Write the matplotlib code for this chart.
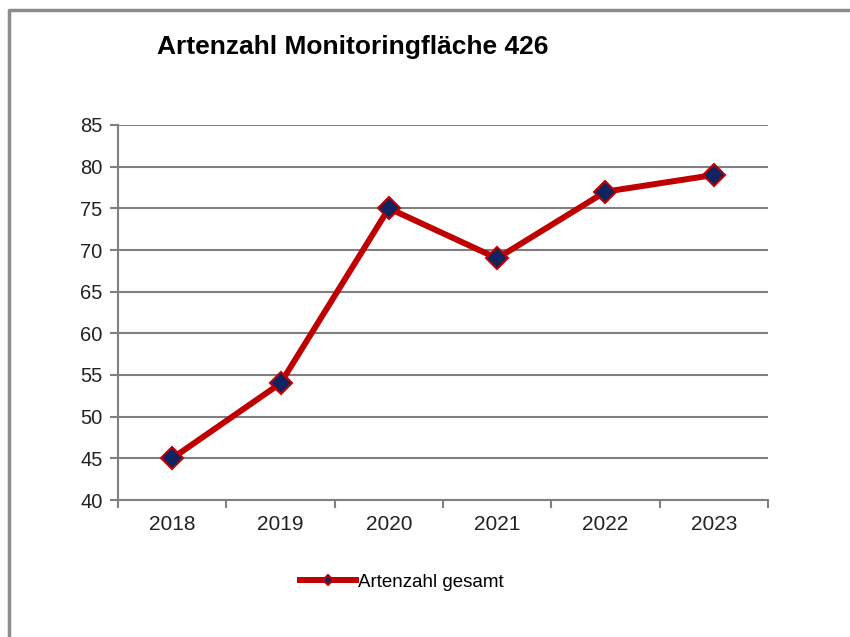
import matplotlib.pyplot as plt
from matplotlib.lines import Line2D

plt.rcParams['font.family'] = ['Liberation Sans', 'DejaVu Sans']

# Daten
jahre = ['2018', '2019', '2020', '2021', '2022', '2023']
artenzahl = [45, 54, 75, 69, 77, 79]
y_ticks = [40, 45, 50, 55, 60, 65, 70, 75, 80, 85]

fig = plt.figure(figsize=(8.5, 6.37), dpi=100)
ax = fig.add_axes([118 / 850, 1 - 500 / 637, 650 / 850, 375 / 637])

x = list(range(len(jahre)))
ax.plot(x, artenzahl, color='#C00000', lw=4.3, marker='D', ms=11.5,
        mfc='#0F2460', mec='#C00000', mew=1.5, label='Artenzahl gesamt', zorder=3)

ax.set_xlim(-0.5, len(jahre) - 0.5)
ax.set_ylim(40, 85)
ax.set_yticks(y_ticks)
ax.set_xticks(x)
ax.set_xticklabels(jahre)
ax.set_xticks([i - 0.5 for i in range(len(jahre) + 1)], minor=True)
ax.tick_params(axis='x', which='major', length=0, pad=11, labelsize=15, colors='#222222')
ax.tick_params(axis='x', which='minor', length=6, width=1.5, color='#808080')
ax.tick_params(axis='y', length=6, width=1.5, color='#808080', labelsize=14.5,
               labelcolor='#222222', pad=5)

ax.grid(axis='y', color='#808080', lw=1.5)
ax.set_axisbelow(True)
for s in ['top', 'right']:
    ax.spines[s].set_visible(False)
for s in ['left', 'bottom']:
    ax.spines[s].set_color('#808080')
    ax.spines[s].set_linewidth(1.5)

fig.text(157 / 850, 1 - 47 / 637, 'Artenzahl Monitoringfläche 426', fontsize=19,
         fontweight='bold', va='center', ha='left')

leg = fig.legend(loc='center', bbox_to_anchor=(402 / 850, 1 - 582 / 637), frameon=False,
                 fontsize=13.5, handlelength=3.0, handletextpad=0.1, markerscale=0.4)

# Rahmen um das Diagramm
fig.add_artist(Line2D([9 / 850, 9 / 850, 1.0], [0.0, 1 - 10 / 637, 1 - 10 / 637],
                      transform=fig.transFigure, color='#8C8C8C', lw=2.5))

fig.savefig('out.png', dpi=100)
